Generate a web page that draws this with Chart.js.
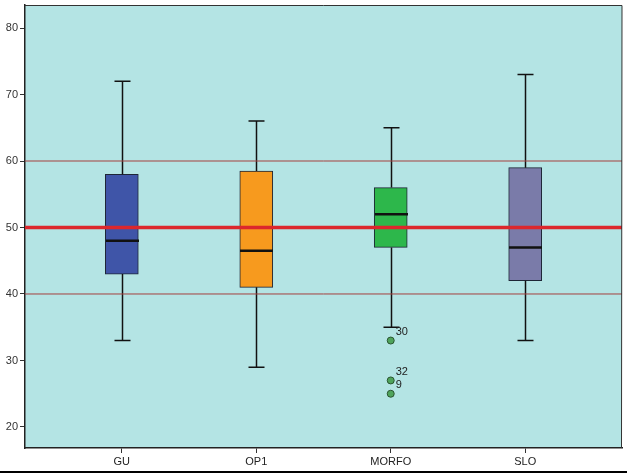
<!DOCTYPE html>
<html>
<head>
<meta charset="utf-8">
<script src="https://cdn.jsdelivr.net/npm/chart.js@4"></script>
<style>
  html, body { margin: 0; padding: 0; background: #fff; }
  #wrap { width: 627px; height: 474px; }
</style>
</head>
<body>
<div id="wrap"><canvas id="boxChart" width="627" height="474"></canvas></div>
<script>
// box plot values
const categories = ['GU', 'OP1', 'MORFO', 'SLO'];
const whiskerLow = [33, 29, 35, 33];
const q1 = [43, 41, 47, 42];
const medians = [48, 46.5, 52, 47];
const q3 = [58, 58.5, 56, 59];
const whiskerHigh = [72, 66, 65, 73];
const boxColors = ['#3F55A8', '#F79A1E', '#2DB74B', '#7A7BA9'];

const outlierGroup = [2, 2, 2];
const outlierValues = [33, 27, 25];
const outlierCases = ['30', '32', '9'];

const refLines = [40, 50, 60];
const yTicks = [20, 30, 40, 50, 60, 70, 80];

const boxPlugin = {
  id: 'boxPlugin',
  beforeDraw(chart) {
    const { ctx, chartArea: a } = chart;
    ctx.save();
    ctx.fillStyle = '#B4E4E4';
    ctx.fillRect(a.left, a.top, a.right - a.left, a.bottom - a.top);
    ctx.restore();
  },
  afterDatasetsDraw(chart) {
    const { ctx, chartArea: a } = chart;
    const xs = chart.scales.x, ys = chart.scales.y;
    ctx.save();
    categories.forEach((c, i) => {
      const cx = Math.round(xs.getPixelForValue(i)) + 0.5;
      ctx.strokeStyle = '#111';
      ctx.lineWidth = 1.5;
      ctx.beginPath();
      ctx.moveTo(cx, ys.getPixelForValue(q3[i]));
      ctx.lineTo(cx, ys.getPixelForValue(whiskerHigh[i]));
      ctx.moveTo(cx, ys.getPixelForValue(q1[i]));
      ctx.lineTo(cx, ys.getPixelForValue(whiskerLow[i]));
      ctx.moveTo(cx - 8, ys.getPixelForValue(whiskerHigh[i]));
      ctx.lineTo(cx + 8, ys.getPixelForValue(whiskerHigh[i]));
      ctx.moveTo(cx - 8, ys.getPixelForValue(whiskerLow[i]));
      ctx.lineTo(cx + 8, ys.getPixelForValue(whiskerLow[i]));
      ctx.stroke();
      ctx.lineWidth = 2.5;
      ctx.beginPath();
      ctx.moveTo(cx - 16.5, ys.getPixelForValue(medians[i]));
      ctx.lineTo(cx + 16.5, ys.getPixelForValue(medians[i]));
      ctx.stroke();
    });
    refLines.forEach(v => {
      const y = ys.getPixelForValue(v);
      ctx.strokeStyle = v === 50 ? '#DC272C' : '#A5403E';
      ctx.lineWidth = v === 50 ? 3.5 : 1;
      ctx.beginPath();
      ctx.moveTo(a.left, y);
      ctx.lineTo(a.right, y);
      ctx.stroke();
    });
    ctx.fillStyle = '#222';
    ctx.font = '11px "Liberation Sans", Arial, sans-serif';
    ctx.textBaseline = 'bottom';
    outlierValues.forEach((v, k) => {
      const x = xs.getPixelForValue(outlierGroup[k]);
      const y = ys.getPixelForValue(v);
      ctx.fillText(outlierCases[k], x + 5, y - 3);
    });
    ctx.restore();
  },
  afterDraw(chart) {
    const { ctx, chartArea: a } = chart;
    ctx.save();
    ctx.strokeStyle = '#333';
    ctx.lineWidth = 1;
    ctx.beginPath();
    ctx.moveTo(a.left, a.top + 0.5);
    ctx.lineTo(a.right, a.top + 0.5);
    ctx.lineTo(a.right - 0.5, a.bottom);
    ctx.stroke();
    ctx.strokeStyle = '#000';
    ctx.lineWidth = 2;
    ctx.beginPath();
    ctx.moveTo(0, 472);
    ctx.lineTo(627, 472);
    ctx.stroke();
    ctx.restore();
  }
};

const tickFont = { family: '"Liberation Sans", Arial, sans-serif', size: 11 };

new Chart(document.getElementById('boxChart'), {
  type: 'bar',
  data: {
    datasets: [
      {
        label: 'box',
        data: categories.map((c, i) => ({ x: i, y: [q1[i], q3[i]] })),
        backgroundColor: boxColors,
        borderColor: '#1E2636',
        borderWidth: 1,
        borderSkipped: false,
        barThickness: 33
      },
      {
        type: 'scatter',
        label: 'outliers',
        data: outlierValues.map((v, k) => ({ x: outlierGroup[k], y: v })),
        backgroundColor: '#4FA45C',
        borderColor: '#2A5530',
        borderWidth: 1,
        pointRadius: 3.5
      }
    ]
  },
  options: {
    responsive: false,
    animation: false,
    layout: { padding: { top: 5, right: 3, left: 0, bottom: 0 } },
    plugins: { legend: { display: false }, tooltip: { enabled: false } },
    scales: {
      x: {
        type: 'linear',
        offset: false,
        min: -0.72,
        max: 3.72,
        afterBuildTicks(scale) { scale.ticks = categories.map((c, i) => ({ value: i })); },
        afterFit(scale) { scale.height = 26; scale.paddingLeft = 0; scale.paddingRight = 0; },
        ticks: {
          callback: v => categories[v],
          color: '#222',
          font: tickFont,
          padding: 2,
          autoSkip: false,
          maxRotation: 0
        },
        grid: { offset: false, drawOnChartArea: false, tickLength: 5, color: '#333' },
        border: { display: true, color: '#222', width: 1.5 }
      },
      y: {
        min: 16.84,
        max: 83.46,
        afterBuildTicks(scale) { scale.ticks = yTicks.map(v => ({ value: v })); },
        afterFit(scale) { scale.width = 25; scale.paddingTop = 0; scale.paddingBottom = 0; },
        ticks: { color: '#333', font: tickFont, padding: 2 },
        grid: { drawOnChartArea: false, tickLength: 5, color: '#333' },
        border: { display: true, color: '#222', width: 1.5 }
      }
    }
  },
  plugins: [boxPlugin]
});
</script>
</body>
</html>
